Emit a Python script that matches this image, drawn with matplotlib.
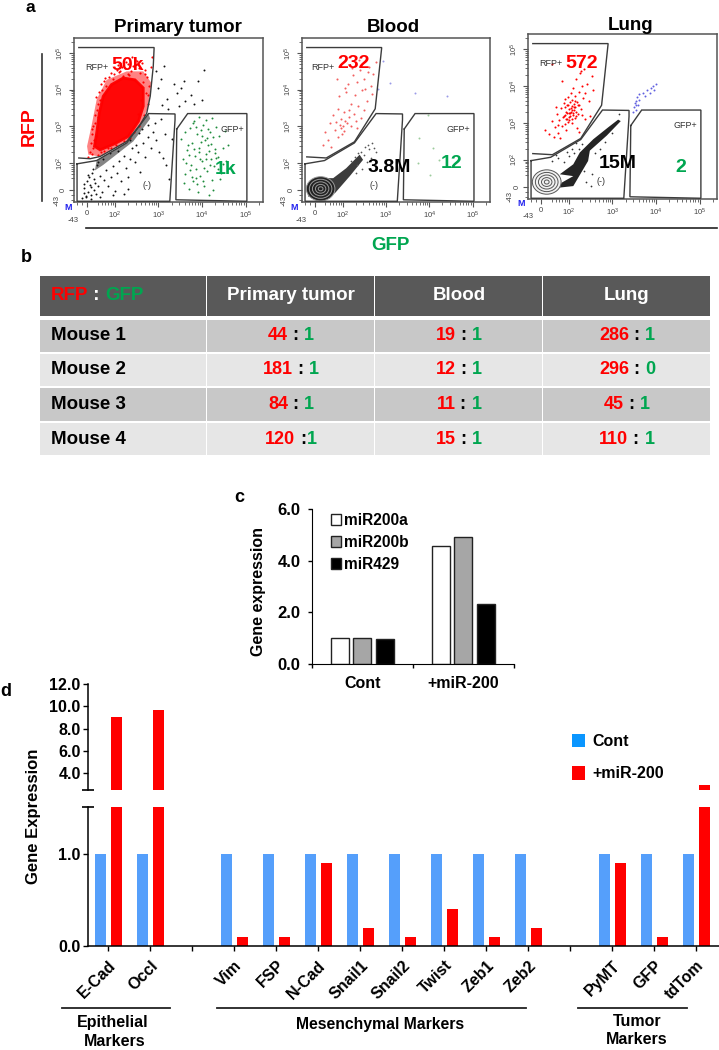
import numpy as np
import matplotlib
matplotlib.use('Agg')
import matplotlib.pyplot as plt
from matplotlib.patches import Polygon, Ellipse, Rectangle, Patch

plt.rcParams['font.family'] = ['Liberation Sans', 'DejaVu Sans']
plt.rcParams['mathtext.default'] = 'regular'

RED = '#FF0000'
GREEN = '#00A650'
BLUE = '#559FFB'
W, H = 719, 1050

# ---- panel a: gates and events, in log10 display units
gate_rfp_u = [1.17, 2.90, 2.88, 2.81, 2.73, 2.58, 2.27, 1.66, 1.43, 1.17]
gate_rfp_v = [5.15, 5.15, 4.64, 3.82, 3.36, 3.05, 2.59, 2.18, 2.12, 2.14]
gate_rfp2_u = [1.17, 2.90, 2.75, 2.27, 1.62, 1.17]
gate_rfp2_v = [5.15, 5.15, 3.48, 2.58, 2.14, 2.17]
gate_neg_u = [1.13, 1.58, 2.27, 2.77, 3.38, 3.38, 3.26, 1.13, 1.13]
gate_neg_v = [1.98, 2.07, 2.55, 3.35, 3.34, 3.18, 0.96, 0.96, 1.98]
gate_gfp_u = [3.42, 3.67, 5.03, 5.03, 3.40, 3.42]
gate_gfp_v = [2.93, 3.35, 3.35, 0.96, 1.00, 2.93]

tumor_core_u = [1.66, 2.00, 2.31, 2.54, 2.65, 2.65, 2.46, 2.19, 1.92, 1.73, 1.64, 1.58, 1.53]
tumor_core_v = [2.36, 2.53, 2.73, 3.14, 3.55, 4.05, 4.27, 4.32, 4.14, 3.82, 3.36, 2.82, 2.46]
tumor_halo_u = [1.39, 1.66, 2.27, 2.61, 2.77, 2.84, 2.65, 2.27, 1.81, 1.58, 1.46, 1.36]
tumor_halo_v = [2.23, 2.18, 2.59, 3.09, 3.55, 4.18, 4.50, 4.50, 4.27, 3.73, 3.00, 2.46]
tumor_red_u = [1.38, 1.42, 1.47, 1.50, 1.44, 1.52, 1.48, 1.56, 1.50, 1.55, 1.47, 1.60, 1.58, 1.54, 1.62, 1.57, 1.66, 1.63,
               1.70, 1.68, 1.74, 1.80, 1.78, 1.86, 1.92, 1.98, 2.04, 2.10, 2.16, 2.24, 2.30, 2.36, 2.42, 2.50, 2.56, 2.62,
               2.70, 2.74, 2.68, 2.78, 2.82, 2.64, 2.58, 2.72, 2.47, 2.52, 2.40, 2.33, 2.26, 2.18, 2.07, 2.12, 1.96, 2.30,
               2.60, 2.66, 2.76, 2.38, 2.44, 2.20, 1.85, 1.76, 1.67, 1.61, 2.84, 2.75, 2.55, 2.02, 1.90, 2.35]
tumor_red_v = [2.18, 2.30, 2.24, 2.42, 2.55, 2.62, 2.80, 2.75, 3.00, 3.10, 2.92, 3.25, 3.45, 3.30, 3.62, 3.80, 3.72, 3.95,
               4.00, 4.15, 4.25, 4.10, 4.32, 4.36, 4.46, 4.42, 4.55, 4.48, 4.62, 4.58, 4.70, 4.52, 4.66, 4.78, 4.60, 4.72,
               4.55, 4.35, 4.42, 4.10, 4.62, 4.20, 4.45, 3.90, 4.82, 3.35, 4.88, 4.40, 4.75, 4.38, 4.68, 4.52, 4.30, 4.42,
               3.72, 3.30, 3.62, 2.76, 2.85, 2.60, 2.40, 2.32, 2.30, 2.22, 4.90, 3.85, 3.02, 2.48, 2.42, 2.68]
tumor_band_u = [1.58, 2.27, 2.77, 2.81, 2.42, 1.73, 1.54]
tumor_band_v = [2.07, 2.55, 3.35, 3.21, 2.59, 1.95, 1.80]
tumor_blk_u = [1.25, 1.30, 1.34, 1.38, 1.28, 1.42, 1.36, 1.45, 1.40, 1.48, 1.52, 1.55, 1.50, 1.58, 1.62, 1.66, 1.60, 1.70,
               1.75, 1.80, 1.72, 1.85, 1.90, 1.95, 2.00, 2.05, 2.10, 2.15, 2.20, 2.25, 2.30, 2.35, 2.40, 2.45, 2.52, 2.58,
               2.64, 2.70, 2.76, 2.82, 2.88, 2.95, 3.02, 3.10, 3.18, 3.25, 2.20, 2.48, 2.62, 2.92, 1.44, 1.33, 1.56, 1.65,
               1.46, 1.38, 1.52, 1.30, 1.88, 2.08, 2.34, 2.56, 2.75, 3.05, 3.15, 3.30, 3.48, 3.52, 3.60, 3.75, 3.90, 4.05,
               3.20, 3.35, 3.42, 3.05, 2.95, 3.12, 3.58, 3.82, 4.00, 2.98, 3.08, 3.22, 2.30, 1.95]
tumor_blk_v = [1.05, 1.18, 1.10, 1.22, 1.32, 1.40, 1.50, 1.12, 1.62, 1.72, 1.28, 1.45, 1.85, 1.95, 1.38, 1.65, 2.02, 1.22,
               1.55, 1.80, 2.10, 1.38, 1.62, 1.92, 1.25, 1.74, 2.05, 1.52, 2.20, 1.88, 1.30, 2.12, 2.40, 2.02, 2.30, 1.75,
               2.55, 2.18, 2.70, 2.42, 2.85, 2.62, 2.30, 2.15, 1.95, 1.58, 1.15, 2.48, 2.92, 3.10, 1.02, 1.08, 1.16, 1.08,
               1.35, 1.68, 1.58, 1.44, 2.28, 2.34, 2.62, 2.82, 3.05, 3.20, 2.80, 2.65, 3.55, 4.05, 3.70, 3.85, 4.25, 4.55,
               3.75, 4.15, 3.90, 4.30, 4.52, 4.65, 4.25, 3.62, 3.72, 4.05, 3.58, 3.48, 1.62, 1.12]
tumor_grn_u = [3.52, 3.56, 3.60, 3.62, 3.66, 3.70, 3.72, 3.74, 3.78, 3.80, 3.82, 3.84, 3.86, 3.88, 3.90, 3.92, 3.94, 3.96,
               3.98, 4.00, 4.02, 4.04, 4.06, 4.08, 4.10, 4.12, 4.14, 4.16, 4.18, 4.20, 4.22, 4.24, 4.26, 4.28, 4.30, 4.32,
               4.36, 4.40, 4.44, 4.48, 4.52, 4.56, 4.60, 3.58, 3.68, 3.76, 3.85, 3.93, 4.01, 4.09, 4.17, 4.25, 4.33, 4.41,
               4.49, 3.64, 3.72, 3.81, 3.89, 3.97, 4.05, 4.13, 4.21, 4.29, 4.37, 3.71, 3.79, 3.87, 3.95, 4.03, 4.11, 4.19]
tumor_grn_v = [2.65, 2.10, 2.85, 1.70, 2.35, 1.30, 2.95, 1.95, 2.55, 1.50, 3.15, 2.20, 1.85, 2.78, 1.20, 2.40, 3.25, 1.65,
               2.90, 2.05, 3.05, 1.38, 2.62, 2.25, 3.18, 1.78, 2.48, 1.12, 2.85, 2.12, 3.22, 1.55, 2.70, 1.92, 2.38, 2.98,
               2.18, 2.75, 1.72, 2.42, 2.88, 2.05, 2.50, 1.45, 2.50, 1.62, 2.98, 2.30, 2.75, 2.10, 2.32, 1.28, 2.15, 1.58,
               1.98, 2.00, 1.80, 2.38, 1.42, 2.58, 1.88, 2.92, 2.52, 2.28, 1.85, 2.22, 3.08, 1.60, 2.12, 1.50, 2.68, 1.95]

blood_red_u = [1.55, 1.60, 1.66, 1.70, 1.74, 1.78, 1.82, 1.85, 1.88, 1.90, 1.93, 1.95, 1.97, 2.00, 2.02, 2.04, 2.06, 2.08,
               2.10, 2.12, 2.15, 2.18, 2.20, 2.24, 2.28, 2.32, 2.36, 2.40, 2.45, 2.50, 2.55, 2.60, 2.65, 2.70, 2.76, 2.14,
               2.22, 2.30, 1.98, 1.92, 2.42, 2.48, 2.58, 2.34, 2.26, 2.05, 1.87, 2.68, 2.52, 2.38]
blood_red_v = [2.50, 2.85, 2.62, 3.10, 2.45, 3.30, 2.90, 3.12, 2.70, 3.48, 3.05, 2.95, 3.20, 3.00, 3.38, 2.88, 3.15, 3.95,
               3.08, 4.15, 3.25, 3.60, 3.02, 4.40, 3.85, 4.22, 3.55, 4.55, 3.98, 4.30, 3.70, 4.62, 4.10, 4.42, 4.75, 3.45,
               4.60, 3.15, 2.78, 3.82, 3.22, 3.45, 4.48, 2.95, 3.35, 4.05, 4.28, 3.88, 4.02, 4.80]
blood_smear_u = [1.24, 1.47, 1.78, 2.08, 2.39, 2.47, 2.16, 1.82, 1.47, 1.20]
blood_smear_v = [1.41, 1.59, 1.59, 1.86, 2.23, 2.09, 1.64, 1.18, 1.03, 1.09]
blood_blk_u = [2.20, 2.28, 2.34, 2.42, 2.50, 2.55, 2.60, 2.66, 2.72, 2.76, 2.45, 2.36, 2.58, 2.68, 2.30, 2.52]
blood_blk_v = [2.05, 2.18, 1.95, 2.30, 2.22, 2.02, 2.38, 2.15, 2.42, 2.30, 1.85, 2.28, 2.50, 2.55, 1.72, 2.45]
blood_grn_u = [3.98, 3.77, 4.08, 3.73, 4.23, 4.02]
blood_grn_v = [3.32, 2.68, 2.41, 2.00, 2.09, 1.68]
blood_blu_u = [2.93, 3.08, 2.81, 3.66, 4.40]
blood_blu_v = [4.77, 4.18, 4.02, 3.91, 3.82]

lung_red_u = [1.46, 1.55, 1.60, 1.65, 1.68, 1.72, 1.75, 1.78, 1.80, 1.82, 1.84, 1.86, 1.88, 1.90, 1.91, 1.92, 1.93, 1.94,
              1.95, 1.96, 1.97, 1.98, 1.99, 2.00, 2.01, 2.02, 2.03, 2.04, 2.05, 2.06, 2.07, 2.08, 2.09, 2.10, 2.11, 2.12,
              2.13, 2.14, 2.15, 2.16, 2.17, 2.18, 2.20, 2.22, 2.24, 2.26, 2.28, 2.30, 2.32, 2.35, 2.38, 2.42, 2.46, 2.52,
              1.88, 1.92, 1.96, 2.00, 2.04, 2.08, 2.12, 2.16, 2.20, 1.94, 1.98, 2.02, 2.06, 2.10, 2.14, 1.70, 1.76, 2.30,
              2.36, 2.48, 1.62, 1.84, 2.28, 2.55, 2.18, 2.24]
lung_red_v = [2.82, 2.70, 3.05, 2.62, 2.88, 3.25, 2.72, 3.08, 2.58, 3.40, 2.92, 3.15, 3.55, 2.98, 3.22, 3.65, 2.80, 3.30,
              3.12, 3.48, 3.02, 3.70, 3.26, 3.38, 3.08, 3.58, 3.18, 3.80, 3.30, 3.45, 3.00, 3.62, 3.22, 3.95, 3.36, 3.52,
              3.14, 3.72, 3.42, 3.30, 4.20, 3.58, 3.25, 3.85, 3.50, 4.35, 3.38, 4.00, 3.68, 4.45, 3.82, 4.05, 3.60, 4.28,
              3.20, 3.42, 3.28, 3.15, 3.40, 3.34, 3.44, 3.20, 3.50, 3.12, 3.50, 3.26, 3.10, 3.28, 3.60, 3.42, 2.95, 3.22,
              3.10, 3.20, 4.60, 4.15, 4.40, 3.90, 2.85, 2.75]
lung_smear_u = [1.79, 2.10, 2.25, 2.56, 2.90, 3.13, 3.19, 2.87, 2.48, 2.44, 2.10, 1.79, 1.83, 2.10]
lung_smear_v = [1.61, 1.88, 2.20, 2.56, 2.88, 3.09, 3.05, 2.66, 2.25, 1.97, 1.29, 1.25, 1.38, 1.56]
lung_blk_u = [1.62, 1.75, 1.88, 2.00, 2.12, 2.22, 2.30, 1.95, 2.06, 2.16, 1.70, 2.34, 2.52, 2.60, 2.72, 2.82, 3.00, 3.15, 2.40, 2.50]
lung_blk_v = [1.98, 2.05, 1.95, 2.10, 2.18, 2.30, 2.42, 2.22, 2.30, 2.45, 2.12, 1.70, 1.62, 2.18, 2.30, 2.48, 2.72, 3.25, 1.40, 1.30]
lung_blu_u = [3.48, 3.50, 3.53, 3.55, 3.58, 3.56, 3.60, 3.62, 3.70, 3.75, 3.80, 3.85, 3.88, 3.92, 3.95, 4.00, 3.54, 3.52]
lung_blu_v = [3.30, 3.42, 3.36, 3.60, 3.50, 3.70, 3.78, 3.62, 3.82, 3.72, 3.90, 3.80, 3.95, 4.00, 3.88, 4.06, 3.48, 3.55]
blood_contour = (1.49, 1.30)
lung_contour = (1.49, 1.40)
contour_sizes = [0.66, 0.52, 0.38, 0.24, 0.11]

# ---- panel b
table_cols = ['Primary tumor', 'Blood', 'Lung']
table_rows = ['Mouse 1', 'Mouse 2', 'Mouse 3', 'Mouse 4']
rfp_ratio = [['44', '19', '286'], ['181', '12', '296'], ['84', '11', '45'], ['120', '15', '110']]
gfp_ratio = [['1', '1', '1'], ['1', '1', '0'], ['1', '1', '1'], ['1', '1', '1']]

# ---- panel c
c_groups = ['Cont', '+miR-200']
mir200a = [1.0, 4.57]
mir200b = [1.0, 4.9]
mir429 = [0.98, 2.33]

# ---- panel d
genes = ['E-Cad', 'Occl', '', 'Vim', 'FSP', 'N-Cad', 'Snail1', 'Snail2', 'Twist', 'Zeb1', 'Zeb2', '', 'PyMT', 'GFP', 'tdTom']
cont = [1, 1, 0, 1, 1, 1, 1, 1, 1, 1, 1, 0, 1, 1, 1]
mir200 = [9.05, 9.7, 0, 0.1, 0.1, 0.9, 0.2, 0.1, 0.4, 0.1, 0.2, 0, 0.9, 0.1, 2.93]


def px_axes(fig, left, top, right, bottom):
    ax = fig.add_axes([left / W, 1 - bottom / H, (right - left) / W, (bottom - top) / H])
    ax.patch.set_alpha(0)
    return ax


fig = plt.figure(figsize=(W / 100, H / 100), dpi=100)

# overlay in image pixels, for labels and the table
over = fig.add_axes([0, 0, 1, 1], zorder=10)
over.set_xlim(0, W)
over.set_ylim(H, 0)
over.axis('off')


def flow_axes(left, top, right, bottom):
    ax = px_axes(fig, left, top, right, bottom)
    ax.set_xlim(1.06, 5.40)
    ax.set_ylim(0.94, 5.41)
    for s in ax.spines.values():
        s.set_color('#555555')
        s.set_linewidth(1.1)
    ax.set_xticks([1.36, 2, 3, 4, 5], ['0', '$10^2$', '$10^3$', '$10^4$', '$10^5$'])
    ax.set_yticks([1.27, 2, 3, 4, 5], ['0', '$10^2$', '$10^3$', '$10^4$', '$10^5$'])
    minor = [d + np.log10(m) for d in [1, 2, 3, 4] for m in range(2, 10) if d + np.log10(m) > 1.5]
    ax.set_xticks(minor + [1.12, 1.25, 5.3], minor=True)
    ax.set_yticks(minor + [1.0, 1.12, 5.3], minor=True)
    ax.tick_params(which='major', length=3.5, width=0.8, color='#555555', labelsize=5.5, labelcolor='#444444', pad=2)
    ax.tick_params(which='minor', length=2, width=0.6, color='#555555')
    ax.tick_params(axis='y', labelrotation=90)
    for lab in ax.get_yticklabels():
        lab.set_va('center')
    return ax


def gate(ax, u, v):
    ax.plot(u, v, color='#3c3c3c', lw=1.0, solid_joinstyle='miter', zorder=6)


def dots(ax, u, v, color, alpha=1.0, s=1.6):
    ax.scatter(u, v, s=s, c=color, alpha=alpha, linewidths=0, zorder=3)


def contours(ax, center, face, edge):
    for size in contour_sizes:
        ax.add_patch(Ellipse(center, size, size, fc=face, ec=edge, lw=0.7, zorder=5))


# primary tumor
ax1 = flow_axes(74, 38, 263, 202)
ax1.add_patch(Polygon(np.column_stack([tumor_halo_u, tumor_halo_v]), fc='#FF3030', lw=0, alpha=0.6, zorder=1))
ax1.add_patch(Polygon(np.column_stack([tumor_core_u, tumor_core_v]), fc=RED, ec=RED, lw=2, alpha=0.95, zorder=2))
ax1.add_patch(Polygon(np.column_stack([tumor_band_u, tumor_band_v]), fc='#222222', alpha=0.55, lw=0, zorder=1))
dots(ax1, tumor_red_u, tumor_red_v, RED, s=2.4)
dots(ax1, tumor_blk_u, tumor_blk_v, '#111111', s=2)
dots(ax1, tumor_grn_u, tumor_grn_v, '#1E8C3C', s=2)
for u, v in [(gate_rfp_u, gate_rfp_v), (gate_neg_u, gate_neg_v), (gate_gfp_u, gate_gfp_v)]:
    gate(ax1, u, v)

# blood
ax2 = flow_axes(302, 38, 490, 202)
ax2.add_patch(Polygon(np.column_stack([blood_smear_u, blood_smear_v]), fc='#1a1a1a', lw=0, alpha=0.85, zorder=1))
dots(ax2, blood_red_u, blood_red_v, '#F26060', s=2.2)
dots(ax2, blood_blk_u, blood_blk_v, '#555555')
dots(ax2, blood_grn_u, blood_grn_v, '#9CCB9C', s=2)
dots(ax2, blood_blu_u, blood_blu_v, '#9A9AE8', s=2)
contours(ax2, blood_contour, '#222222', '#9a9a9a')
for u, v in [(gate_rfp2_u, gate_rfp2_v), (gate_neg_u, gate_neg_v), (gate_gfp_u, gate_gfp_v)]:
    gate(ax2, u, v)

# lung
ax3 = flow_axes(528, 34, 717, 199)
ax3.add_patch(Polygon(np.column_stack([lung_smear_u, lung_smear_v]), fc='#111111', lw=0, alpha=0.92, zorder=1))
dots(ax3, lung_red_u, lung_red_v, RED, s=2.2)
dots(ax3, lung_blk_u, lung_blk_v, '#333333')
dots(ax3, lung_blu_u, lung_blu_v, '#6060E0', s=2)
contours(ax3, lung_contour, '#F2F2F2', '#555555')
for u, v in [(gate_rfp2_u, gate_rfp2_v), (gate_neg_u, gate_neg_v), (gate_gfp_u, gate_gfp_v)]:
    gate(ax3, u, v)


def label(x, y, s, size=12, color='black', weight='bold', **kw):
    kw.setdefault('ha', 'center')
    return over.text(x, y, s, fontsize=size, color=color, fontweight=weight, va='center', **kw)


label(30, 8, 'a', 12.5)
label(26, 258, 'b', 13)
label(239, 498, 'c', 13)
label(6, 691, 'd', 13)
label(178, 28, 'Primary tumor', 13.5)
label(393, 27, 'Blood', 13.5)
label(631, 25, 'Lung', 13.5)
label(29, 127, 'RFP', 14, RED, rotation=90)
label(390, 245, 'GFP', 13.5, GREEN)
over.plot([42, 42], [54, 201], color='#333333', lw=1.2)
over.plot([86, 717], [228, 228], color='#222222', lw=1.2)

for x, y, s, c in [(128, 65, '50k', RED), (226, 169, '1k', GREEN), (354, 64, '232', RED), (389, 167, '3.8M', 'black'),
                   (452, 164, '12', GREEN), (582, 63, '572', RED), (618, 164, '15M', 'black'), (681, 168, '2', GREEN)]:
    label(x, y, s, 14, c)
for x, y, s in [(97, 68, 'RFP+'), (232, 130, 'GFP+'), (147, 186, '(-)'), (323, 68, 'RFP+'), (458, 129, 'GFP+'),
                (374, 185, '(-)'), (551, 64, 'RFP+'), (685, 125, 'GFP+'), (601, 181, '(-)')]:
    label(x, y, s, 6.5, '#333333', 'normal')
for x, y in [(68, 208), (294, 208), (521, 204)]:
    label(x, y, 'M', 6.5, '#2222EE')
for x, y in [(73, 221), (301, 221), (528, 216)]:
    label(x, y, '-43', 5.5, '#444444', 'normal')
for x, y in [(57, 200), (284, 200), (510, 197)]:
    label(x, y, '-43', 5.5, '#444444', 'normal', rotation=90)

# table (panel b)
col_x = [40, 207, 375, 543, 711]
row_y = [(276, 316), (320, 352), (354, 386), (388, 421), (423, 455)]
row_colors = ['#595959', '#C8C8C8', '#E6E6E6', '#C8C8C8', '#E6E6E6']
for (top, bot), color in zip(row_y, row_colors):
    for a, b in zip(col_x[:-1], col_x[1:]):
        over.add_patch(Rectangle((a, top), b - a - 1.5, bot - top, fc=color, ec='none'))

renderer = fig.canvas.get_renderer()


def pieces(x, y, parts, size=13, center=True):
    # coloured parts of one string, laid end to end
    texts = [over.text(0, y, s, fontsize=size, fontweight='bold', color=c, va='center', ha='left') for s, c in parts]
    widths = [t.get_window_extent(renderer).width for t in texts]
    start = x - sum(widths) / 2 if center else x
    for t, w in zip(texts, widths):
        t.set_x(start)
        start += w


pieces(51, 295, [('RFP', RED), (' : ', 'white'), ('GFP', GREEN)], size=13.5, center=False)
for j, name in enumerate(table_cols):
    label((col_x[j + 1] + col_x[j + 2]) / 2, 295, name, 13.5, 'white')
for i, name in enumerate(table_rows):
    top, bot = row_y[i + 1]
    mid = (top + bot) / 2
    label(51, mid, name, 13.5, ha='left')
    for j in range(3):
        sep = ' :' if rfp_ratio[i][j] == '120' else ' : '
        pieces((col_x[j + 1] + col_x[j + 2]) / 2, mid,
               [(rfp_ratio[i][j], RED), (sep, 'black'), (gfp_ratio[i][j], GREEN)])

# panel c
axc = px_axes(fig, 311.7, 509, 513.7, 664)
pos = np.arange(len(c_groups))
bw, step = 0.178, 0.222
axc.bar(pos - step, mir200a, bw, color='white', edgecolor='#222222', lw=1, label='miR200a')
axc.bar(pos, mir200b, bw, color='#A6A6A6', edgecolor='#222222', lw=1, label='miR200b')
axc.bar(pos + step, mir429, bw, color='black', edgecolor='#222222', lw=1, label='miR429')
axc.set_xlim(-0.5, 1.5)
axc.set_ylim(0, 6)
axc.set_yticks([0, 2, 4, 6], ['0.0', '2.0', '4.0', '6.0'])
axc.set_xticks([-0.5, 0.5, 1.5], minor=True)
axc.set_xticks(pos, c_groups)
axc.tick_params(axis='x', which='major', length=0, pad=9, labelsize=11.5)
axc.tick_params(axis='x', which='minor', length=3, width=1)
axc.tick_params(axis='y', length=3, width=1, labelsize=12, pad=5)
for lab in axc.get_xticklabels() + axc.get_yticklabels():
    lab.set_fontweight('bold')
axc.set_ylabel('Gene expression', fontsize=11.5, fontweight='bold')
axc.yaxis.set_label_coords(-0.225, 0.465)
axc.spines[['top', 'right']].set_visible(False)
axc.legend(loc='upper left', bbox_to_anchor=(0.09, 0.985), frameon=False, handlelength=0.6,
           handleheight=0.75, handletextpad=0.2, labelspacing=0.45, borderpad=0.1, borderaxespad=0,
           prop={'weight': 'bold', 'size': 11.2})

# panel d, broken y axis
d_left, d_right = -0.483, 14.54
d_low = px_axes(fig, 88, 807.3, 719, 946)
d_up = px_axes(fig, 88, 683.7, 719, 790.3)
x = np.arange(len(genes))
offset, d_bw = 0.186, 0.262
for ax in (d_low, d_up):
    ax.bar(x - offset, cont, d_bw, color=BLUE, label='Cont')
    ax.bar(x + offset, mir200, d_bw, color=RED, label='+miR-200')
    ax.set_xlim(d_left, d_right)
    ax.spines[['top', 'right']].set_visible(False)
    ax.spines['left'].set_linewidth(1.1)
    ax.tick_params(axis='y', length=3.3, width=1, labelsize=11.5, pad=2)
    ax.tick_params(axis='y', which='minor', direction='inout', length=8, width=1.2)
d_low.set_ylim(0, 1.5)
d_low.set_yticks([0, 1], ['0.0', '1.0'])
d_low.set_yticks([1.5], minor=True)
d_low.set_xticks(x, genes, rotation=45, ha='right', rotation_mode='anchor', fontsize=11.5, fontweight='bold')
d_low.tick_params(axis='x', length=3.5, width=1, pad=5)
d_low.spines['bottom'].set_linewidth(1.1)
d_up.set_ylim(2.5, 12)
d_up.set_yticks([4, 6, 8, 10, 12], ['4.0', '6.0', '8.0', '10.0', '12.0'])
d_up.set_yticks([2.5], minor=True)
d_up.set_xticks([])
d_up.spines['bottom'].set_visible(False)
for ax in (d_low, d_up):
    for lab in ax.get_yticklabels():
        lab.set_fontweight('bold')
label(34, 816, 'Gene Expression', 12, rotation=90)

handles = [Patch(fc='#0A96FF', lw=0), Patch(fc=RED, lw=0)]
over.legend(handles, ['Cont', '+miR-200'], loc='upper left', bbox_to_anchor=(570 / W, 1 - 732 / H),
            bbox_transform=fig.transFigure, frameon=False, handlelength=0.85, handleheight=0.95, handletextpad=0.45,
            labelspacing=1.05, borderpad=0.1, borderaxespad=0, prop={'weight': 'bold', 'size': 11.5})

for a, b in [(62, 170), (217, 526), (578, 687)]:
    over.plot([a, b], [1008, 1008], color='#222222', lw=1.3)
label(113, 1022, 'Epithelial', 11.5)
label(115, 1041, 'Markers', 11.5)
label(380, 1025, 'Mesenchymal Markers', 11.3)
label(637, 1021, 'Tumor', 11.5)
label(637, 1040, 'Markers', 11.5)

fig.savefig('out.png', dpi=100)
